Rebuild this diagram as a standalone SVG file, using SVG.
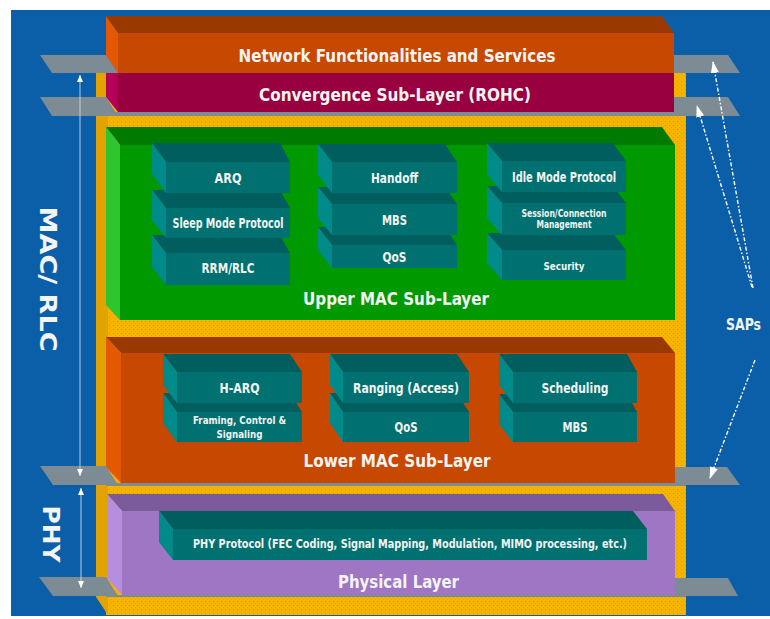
<svg xmlns="http://www.w3.org/2000/svg" width="770" height="619" viewBox="0 0 770 619">
<defs>
<pattern id="dots" width="4" height="4" patternUnits="userSpaceOnUse">
<rect width="4" height="4" fill="#f6b400"/>
<rect x="1" y="1" width="1" height="1" fill="#b89a58"/>
<rect x="3" y="3" width="1" height="1" fill="#d0a640"/>
</pattern>
<marker id="ahS" markerUnits="userSpaceOnUse" markerWidth="12" markerHeight="8" refX="11" refY="4" orient="auto-start-reverse" viewBox="0 0 12 8">
<path d="M0,0 L12,4 L0,8 Z" fill="#ffffff"/>
</marker>
<marker id="ahL" markerUnits="userSpaceOnUse" markerWidth="7" markerHeight="6" refX="7" refY="3" orient="auto-start-reverse" viewBox="0 0 7 6">
<path d="M0,0 L7,3 L0,6 Z" fill="#ffffff"/>
</marker>
</defs>
<style>
text{font-family:"DejaVu Sans Condensed","DejaVu Sans",sans-serif;font-weight:bold;fill:#f4f4f4;text-anchor:middle;font-stretch:condensed}
.t{font-size:18.5px}
.b{font-size:14px}
.s{font-size:10.5px}
.p{font-size:13px}
.v{font-size:23px}
.plate{fill:#7c8b94}
.tf{fill:#005e5e}.tl{fill:#008a8a}.tr{fill:#007070}
.of{fill:#c74800}.ot{fill:#993900}.ol{fill:#e35800}
.sap{fill:none;stroke:#ffffff;stroke-width:1.4;stroke-dasharray:4 2 1.5 2}
.vl{fill:none;stroke:#dfe6ee;stroke-width:0.8}
</style>

<rect x="11" y="10" width="759" height="606" fill="#0b5fa9"/>

<g id="container">
<rect x="106" y="73" width="580" height="542" fill="url(#dots)"/>
<polygon points="96,73 108,73 108,615 96,597" fill="#e2a200"/>
</g>

<g id="network">
<polygon points="106,16 662,16 674,33 118,33" class="ot"/>
<polygon points="106,16 118,33 118,73 106,56" class="ol"/>
<rect x="118" y="33" width="556" height="40" class="of"/>
<text class="t" x="397" y="62" textLength="317" lengthAdjust="spacingAndGlyphs">Network Functionalities and Services</text>
</g>

<g id="convergence">
<polygon points="106,73 118,73 118,112 106,97" fill="#b5005a"/>
<rect x="118" y="73" width="556" height="39" fill="#99003f"/>
<rect x="106" y="112" width="580" height="4" class="plate"/>
<text class="t" x="395" y="101" textLength="272" lengthAdjust="spacingAndGlyphs">Convergence Sub-Layer (ROHC)</text>
</g>

<g id="upper-mac">
<polygon points="106,127 662,127 675,145 120,145" fill="#007b00"/>
<polygon points="106,127 120,145 120,320 106,305" fill="#2ec62e"/>
<rect x="120" y="145" width="555" height="175" fill="#009a00"/>
<text class="t" x="396" y="305" textLength="186" lengthAdjust="spacingAndGlyphs">Upper MAC Sub-Layer</text>
</g>

<g id="rrm">
<polygon points="152,235 280,235 290,253 166,253" class="tf"/>
<polygon points="152,235 166,253 166,285 152,267" class="tl"/>
<rect x="166" y="253" width="124" height="32" class="tr"/>
<text class="b" x="228" y="273" textLength="53" lengthAdjust="spacingAndGlyphs">RRM/RLC</text>
</g>
<g id="sleep">
<polygon points="152,190 280,190 290,208 166,208" class="tf"/>
<polygon points="152,190 166,208 166,238 152,220" class="tl"/>
<rect x="166" y="208" width="124" height="30" class="tr"/>
<text class="b" x="228" y="228" textLength="111" lengthAdjust="spacingAndGlyphs">Sleep Mode Protocol</text>
</g>
<g id="arq">
<polygon points="152,143 280,143 290,162 166,162" class="tf"/>
<polygon points="152,143 166,162 166,193 152,174" class="tl"/>
<rect x="166" y="162" width="124" height="31" class="tr"/>
<text class="b" x="228" y="183" textLength="27" lengthAdjust="spacingAndGlyphs">ARQ</text>
</g>

<g id="qos-upper">
<polygon points="318,227 445,227 457,245 332,245" class="tf"/>
<polygon points="318,227 332,245 332,268 318,250" class="tl"/>
<rect x="332" y="245" width="125" height="23" class="tr"/>
<text class="b" x="394.5" y="262" textLength="24" lengthAdjust="spacingAndGlyphs">QoS</text>
</g>
<g id="mbs-upper">
<polygon points="318,187 445,187 457,204 332,204" class="tf"/>
<polygon points="318,187 332,204 332,235 318,218" class="tl"/>
<rect x="332" y="204" width="125" height="31" class="tr"/>
<text class="b" x="394.5" y="225" textLength="25" lengthAdjust="spacingAndGlyphs">MBS</text>
</g>
<g id="handoff">
<polygon points="318,144 445,144 457,162 332,162" class="tf"/>
<polygon points="318,144 332,162 332,193 318,175" class="tl"/>
<rect x="332" y="162" width="125" height="31" class="tr"/>
<text class="b" x="394.5" y="183" textLength="47" lengthAdjust="spacingAndGlyphs">Handoff</text>
</g>

<g id="security">
<polygon points="487,233 613,233 626,250 502,250" class="tf"/>
<polygon points="487,233 502,250 502,280 487,263" class="tl"/>
<rect x="502" y="250" width="124" height="30" class="tr"/>
<text class="s" x="564" y="270" textLength="41" lengthAdjust="spacingAndGlyphs">Security</text>
</g>
<g id="session">
<polygon points="487,186 613,186 626,203 502,203" class="tf"/>
<polygon points="487,186 502,203 502,235 487,218" class="tl"/>
<rect x="502" y="203" width="124" height="32" class="tr"/>
<text class="s" x="564" y="217" textLength="85" lengthAdjust="spacingAndGlyphs">Session/Connection</text>
<text class="s" x="564" y="228" textLength="55" lengthAdjust="spacingAndGlyphs">Management</text>
</g>
<g id="idle">
<polygon points="487,143 613,143 626,161 502,161" class="tf"/>
<polygon points="487,143 502,161 502,192 487,174" class="tl"/>
<rect x="502" y="161" width="124" height="31" class="tr"/>
<text class="b" x="564" y="182" textLength="104" lengthAdjust="spacingAndGlyphs">Idle Mode Protocol</text>
</g>

<g id="lower-mac">
<polygon points="106,337 662,337 675,353 121,353" class="ot"/>
<polygon points="106,337 121,353 121,483 106,467" class="ol"/>
<rect x="121" y="353" width="554" height="130" class="of"/>
<rect x="106" y="483" width="580" height="3" class="plate"/>
<text class="t" x="397" y="467" textLength="187" lengthAdjust="spacingAndGlyphs">Lower MAC Sub-Layer</text>
</g>

<g id="framing">
<polygon points="163,393 290,393 302,412 177,412" class="tf"/>
<polygon points="163,393 177,412 177,442 163,423" class="tl"/>
<rect x="177" y="412" width="125" height="30" class="tr"/>
<text class="s" x="239.5" y="424" textLength="93" lengthAdjust="spacingAndGlyphs">Framing, Control &amp;</text>
<text class="s" x="239.5" y="438" textLength="46" lengthAdjust="spacingAndGlyphs">Signaling</text>
</g>
<g id="harq">
<polygon points="163,354 290,354 302,372 177,372" class="tf"/>
<polygon points="163,354 177,372 177,403 163,385" class="tl"/>
<rect x="177" y="372" width="125" height="31" class="tr"/>
<text class="b" x="239.5" y="393" textLength="40" lengthAdjust="spacingAndGlyphs">H-ARQ</text>
</g>
<g id="qos-lower">
<polygon points="330,393 457,393 469,412 343,412" class="tf"/>
<polygon points="330,393 343,412 343,442 330,423" class="tl"/>
<rect x="343" y="412" width="126" height="30" class="tr"/>
<text class="b" x="406" y="432" textLength="23" lengthAdjust="spacingAndGlyphs">QoS</text>
</g>
<g id="ranging">
<polygon points="330,354 457,354 469,372 343,372" class="tf"/>
<polygon points="330,354 343,372 343,403 330,385" class="tl"/>
<rect x="343" y="372" width="126" height="31" class="tr"/>
<text class="b" x="406" y="393" textLength="106" lengthAdjust="spacingAndGlyphs">Ranging (Access)</text>
</g>
<g id="mbs-lower">
<polygon points="499,394 627,394 637,412 513,412" class="tf"/>
<polygon points="499,394 513,412 513,442 499,424" class="tl"/>
<rect x="513" y="412" width="124" height="30" class="tr"/>
<text class="b" x="575" y="432" textLength="25" lengthAdjust="spacingAndGlyphs">MBS</text>
</g>
<g id="scheduling">
<polygon points="499,354 627,354 637,372 513,372" class="tf"/>
<polygon points="499,354 513,372 513,403 499,385" class="tl"/>
<rect x="513" y="372" width="124" height="31" class="tr"/>
<text class="b" x="575" y="393" textLength="67" lengthAdjust="spacingAndGlyphs">Scheduling</text>
</g>

<g id="physical">
<polygon points="107,494 663,494 675,511 122,511" fill="#7b5b9b"/>
<polygon points="107,494 122,511 122,595 107,578" fill="#b58ee0"/>
<rect x="122" y="511" width="553" height="84" fill="#9e76c4"/>
<rect x="106" y="595" width="580" height="2" class="plate"/>
<text class="t" x="398.5" y="588" textLength="121" lengthAdjust="spacingAndGlyphs">Physical Layer</text>
</g>
<g id="phy-protocol">
<polygon points="159,511 633,511 647,529 173,529" class="tf"/>
<polygon points="159,511 173,529 173,560 159,542" class="tl"/>
<rect x="173" y="529" width="474" height="31" class="tr"/>
<text class="p" x="410" y="548" textLength="434" lengthAdjust="spacingAndGlyphs">PHY Protocol (FEC Coding, Signal Mapping, Modulation, MIMO processing, etc.)</text>
</g>

<g id="saps-plates">
<polygon points="40,55 106,55 118,73 52,73" class="plate"/>
<polygon points="40,97 106,97 118,116 52,116" class="plate"/>
<polygon points="40,466 106,466 118,485 53,485" class="plate"/>
<polygon points="39,577 106,577 118,596 53,596" class="plate"/>
<polygon points="674,55 728,55 740,73 674,73" class="plate"/>
<polygon points="674,97 728,97 740,116 674,116" class="plate"/>
<polygon points="675,467 727,467 740,485 675,485" class="plate"/>
<polygon points="675,578 728,578 738,596 675,596" class="plate"/>
</g>

<g id="labels">
<text class="v" transform="translate(40,279) rotate(90)" textLength="145" lengthAdjust="spacingAndGlyphs">MAC/ RLC</text>
<text class="v" transform="translate(43,534) rotate(90)" font-size="22" textLength="57" lengthAdjust="spacingAndGlyphs">PHY</text>
<text x="726" y="330" style="font-size:16px;text-anchor:start" textLength="35" lengthAdjust="spacingAndGlyphs">SAPs</text>
</g>

<g id="connectors">
<line class="vl" x1="80" y1="75" x2="80" y2="476" marker-start="url(#ahL)" marker-end="url(#ahL)"/>
<line class="vl" x1="81" y1="488" x2="81" y2="588" marker-start="url(#ahL)" marker-end="url(#ahL)"/>
<line class="sap" x1="753" y1="288" x2="713" y2="62" marker-end="url(#ahS)"/>
<line class="sap" x1="752" y1="287" x2="697" y2="106" marker-end="url(#ahS)"/>
<line class="sap" x1="755" y1="360" x2="710" y2="478" marker-end="url(#ahS)"/>
</g>
</svg>
